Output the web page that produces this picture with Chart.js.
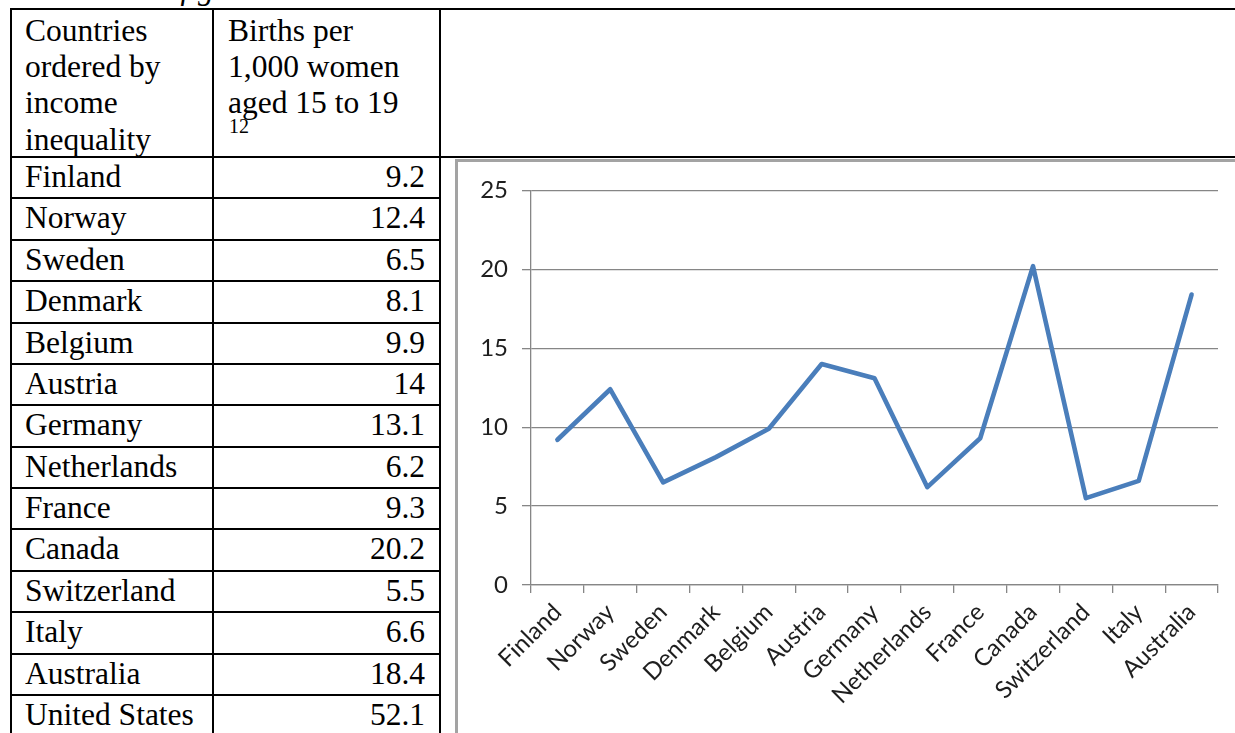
<!DOCTYPE html>
<html>
<head>
<meta charset="utf-8">
<title>Teenage births and income inequality</title>
<script src="https://cdn.jsdelivr.net/npm/chart.js@4.4.1/dist/chart.umd.min.js"></script>
<style>
  html, body { margin: 0; padding: 0; background: #fff; }
  body { position: relative; width: 1235px; height: 733px; overflow: hidden; }
  .hl, .vl { position: absolute; background: #000; }
  .txt {
    position: absolute;
    font-family: 'Liberation Serif', 'Times New Roman', serif;
    font-size: 31.5px;
    line-height: 36.2px;
    color: #000;
    white-space: nowrap;
  }
  #frame {
    position: absolute; left: 455px; top: 159px; width: 820px; height: 620px;
    border-left: 3px solid #a3a3a3; border-top: 3px solid #a3a3a3;
  }
  #chart { position: absolute; left: 458px; top: 162px; }
</style>
</head>
<body>
<div class="txt" style="left:25px; top:-29px; font-style:italic;">Table 1 and figure 9</div>
<div id="frame"></div>
<canvas id="chart" width="777" height="571"></canvas>

<script>
// Teenage birth rates, countries ordered by income inequality
const countries = [
  'Finland', 'Norway', 'Sweden', 'Denmark', 'Belgium', 'Austria', 'Germany',
  'Netherlands', 'France', 'Canada', 'Switzerland', 'Italy', 'Australia', 'United States'
];
const birthRates = [9.2, 12.4, 6.5, 8.1, 9.9, 14, 13.1, 6.2, 9.3, 20.2, 5.5, 6.6, 18.4, 52.1];

// The United States is listed in the table but left out of the figure
const notPlotted = ['United States'];

const headerCountry = ['Countries', 'ordered by', 'income', 'inequality'];
const headerRate = ['Births per', '1,000 women', 'aged 15 to 19'];
const headerNote = '12';

const yTicks = [0, 5, 10, 15, 20, 25];

// ---- table ----
const tableLeft = 10, colSplit = 212, colRight = 439, tableTop = 8, headBottom = 156;
const rowH = 41.38;

function line(cls, x, y, w, h) {
  const d = document.createElement('div');
  d.className = cls;
  d.style.left = x + 'px'; d.style.top = y + 'px';
  d.style.width = w + 'px'; d.style.height = h + 'px';
  document.body.appendChild(d);
}
function text(str, x, y, extra) {
  const d = document.createElement('div');
  d.className = 'txt';
  d.style.left = x + 'px'; d.style.top = y + 'px';
  d.textContent = str;
  if (extra) Object.assign(d.style, extra);
  document.body.appendChild(d);
  return d;
}

// outer rules run across the full page width (third column holds the figure)
line('hl', tableLeft, tableTop, 1300, 2);
line('hl', tableLeft, headBottom, 1300, 2);
countries.forEach((c, i) => {
  const y = headBottom + rowH * (i + 1);
  line('hl', tableLeft, Math.round(y), colRight + 2 - tableLeft, 2);
});
[tableLeft, colSplit, colRight].forEach(x => line('vl', x, tableTop, 2, 760));

headerCountry.forEach((s, i) => text(s, 25, 13 + i * 36.2));
headerRate.forEach((s, i) => text(s, 228, 13 + i * 36.2));
text(headerNote, 229, 115, { fontSize: '20px', lineHeight: '22px' });

countries.forEach((c, i) => {
  const top = headBottom + rowH * i + 3;
  text(c, 25, top);
  text(String(birthRates[i]), colSplit, top, { width: '213px', textAlign: 'right' });
});

// ---- figure ----
const plotIdx = countries.map((c, i) => i).filter(i => !notPlotted.includes(countries[i]));
const plotLabels = plotIdx.map(i => countries[i]);
const plotValues = plotIdx.map(i => birthRates[i]);

const axisGrey = '#868686';
const labelFont = { family: 'Lato', size: 24 };
const labelColour = '#1e1e1e';

function draw() {
  new Chart(document.getElementById('chart'), {
    type: 'line',
    data: {
      labels: plotLabels,
      datasets: [{
        data: plotValues,
        borderColor: '#4a7ebb',
        borderWidth: 4.6,
        pointRadius: 0,
        tension: 0,
        fill: false,
        borderCapStyle: 'round',
        borderJoinStyle: 'round'
      }]
    },
    options: {
      responsive: false,
      animation: false,
      devicePixelRatio: 1,
      layout: { padding: { top: 27, right: 17, left: 0, bottom: 0 } },
      plugins: { legend: { display: false }, tooltip: { enabled: false } },
      scales: {
        x: {
          offset: true,
          grid: { offset: true, drawOnChartArea: false, drawTicks: true, tickLength: 8, color: axisGrey, lineWidth: 1.3 },
          border: { color: axisGrey, width: 1.3 },
          ticks: { minRotation: 45, maxRotation: 45, autoSkip: false, padding: 5, color: labelColour, font: labelFont },
          afterFit(s) { s.height = 148; }
        },
        y: {
          min: yTicks[0],
          max: yTicks[yTicks.length - 1],
          afterBuildTicks(s) { s.ticks = yTicks.map(v => ({ value: v })); },
          grid: { color: axisGrey, lineWidth: 1.3, tickLength: 9 },
          border: { color: axisGrey, width: 1.3 },
          ticks: { padding: 14, color: labelColour, font: labelFont },
          afterFit(s) { s.width = 73; }
        }
      }
    }
  });
}

if (document.fonts && document.fonts.load) {
  document.fonts.load('24px Lato').then(draw, draw);
} else {
  draw();
}
</script>
</body>
</html>
